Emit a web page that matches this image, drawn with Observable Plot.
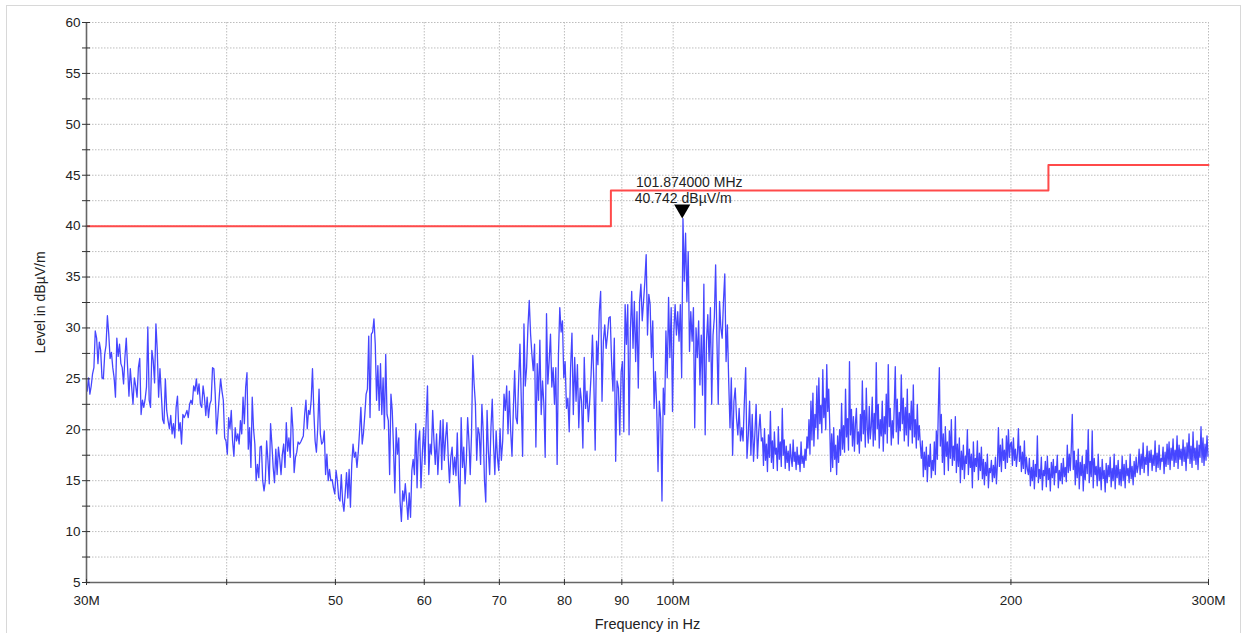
<!DOCTYPE html>
<html>
<head>
<meta charset="utf-8">
<script src="https://cdn.jsdelivr.net/npm/d3@7"></script>
<script src="https://cdn.jsdelivr.net/npm/@observablehq/plot@0.6"></script>
<style>
  body { margin: 0; background: #fff; }
  #wrap { position: relative; width: 1243px; height: 633px; overflow: hidden; }
  #frame { position: absolute; left: 6px; top: 5px; width: 1235px; height: 640px;
           border: 1px solid #d8d8d8; box-sizing: border-box; pointer-events: none; }
</style>
</head>
<body>
<div id="wrap"><div id="frame"></div></div>
<script>
// Radiated emission scan, 30 MHz – 300 MHz (levels in dBµV/m).
// Sweep levels are grouped by frequency band; each band's samples run across it in order.
const bandEdges = [30, 40, 50, 60, 70, 80, 90, 100, 120, 150, 200, 250, 300];

const lv30_40 = [23.8,25.1,23.5,24.3,25.5,26.1,29.7,29.0,26.5,28.6,27.8,25.1,25.0,27.4,28.3,31.2,29.4,27.0,27.6,26.1,
  25.1,23.2,29.0,27.2,28.4,26.5,26.1,24.5,27.1,29.0,26.1,23.3,26.0,24.2,22.5,25.1,24.3,23.2,26.1,27.0,
  21.5,22.9,22.2,23.0,24.2,30.1,22.9,22.2,27.8,26.8,24.6,30.4,27.8,23.2,26.0,23.5,21.0,20.6,25.0,21.9,
  20.9,20.1,21.4,19.6,20.6,19.2,22.2,23.3,19.9,20.7,18.6,21.5,21.2,21.5,21.9,21.2,22.5,22.9,22.5,24.3,
  23.8,25.0,23.5,24.5,22.5,22.2,24.3,23.2,21.4,23.2,21.2,22.5,22.9,26.1,26.0,23.5,19.6,21.4,23.3,25.0,
  23.8,22.9,19.2,18.9];
const lv40_50 = [17.6,21.2,20.1,21.9,18.9,17.4,20.2,18.9,19.6,18.6,20.9,19.6,23.2,20.6,24.2,25.6,18.1,20.2,16.3,23.2,
  20.1,18.6,15.0,16.6,15.3,18.3,18.4,15.0,14.0,15.0,18.9,17.0,14.7,20.6,18.6,16.3,14.8,18.1,15.6,18.3,
  17.1,15.6,17.6,18.6,16.3,20.7,17.9,19.2,17.3,22.2,20.2,15.8,17.3,17.8,18.8,18.6,18.8,19.1,19.4,21.5,
  22.9,20.1,21.9,21.5,22.9,26.0,21.9,18.9,17.8,20.2,24.0,19.6,18.6,18.8,19.9,15.6,17.6,15.0,16.1,15.0,
  15.1,14.3,13.7];
const lv50_60 = [16.0,15.0,13.3,13.0,15.6,13.0,12.0,13.8,15.8,13.3,16.1,12.4,16.6,18.6,17.3,17.8,16.3,17.8,19.9,22.2,
  18.6,19.7,21.5,23.5,24.0,29.2,21.2,29.4,29.6,30.9,28.4,22.9,26.3,21.9,26.5,21.5,25.1,20.1,27.4,21.5,
  20.9,15.6,23.5,21.9,18.1,13.8,20.2,17.6,19.2,13.0,11.0,14.0,13.0,14.7,13.0,11.2,13.8,11.4,16.0,17.1,
  15.6,20.6,14.3,18.9,19.9,14.3,17.6,20.2];
const lv60_70 = [16.6,21.0,24.3,15.6,18.6,17.6,21.9,18.9,16.6,19.6,15.6,18.3,20.9,16.1,21.0,17.0,19.2,20.7,17.3,14.8,
  17.3,18.3,15.6,17.3,15.5,19.7,15.0,12.5,21.2,16.3,18.3,14.7,17.0,21.2,18.9,15.6,19.6,27.3,24.5,22.5,
  17.0,20.2,19.6,16.6,22.5,19.9,15.0,12.9,21.9,17.9,15.6,20.2,23.0,18.6,15.6,19.9,17.3,16.0];
const lv70_80 = [20.1,17.0,18.9,23.5,21.9,24.3,19.6,23.8,19.9,17.4,21.9,25.8,21.2,20.6,24.8,28.4,22.9,17.4,30.4,24.3,
  26.1,30.1,32.7,29.4,27.4,25.8,28.4,18.3,26.5,22.9,28.8,21.5,24.8,22.5,17.3,31.4,24.5,26.8,29.4,24.2,
  26.1,22.5,26.1,16.6,27.4,32.0,29.6,30.7,25.1];
const lv80_90 = [26.7,22.1,23.1,19.8,26.1,29.5,21.5,27.1,22.8,26.4,20.2,24.1,22.8,18.2,27.1,22.1,23.8,20.8,22.8,25.4,
  29.3,24.8,18.0,28.7,26.4,31.6,33.6,22.8,28.7,30.3,28.0,29.3,31.0,31.1,26.7,23.8,29.0,16.9,24.8,24.1,
  19.5,25.7];
const lv90_100 = [26.7,19.8,32.3,28.4,32.3,19.5,29.7,33.6,28.0,32.6,26.7,31.6,24.1,32.6,34.3,30.7,32.6,34.6,37.2,29.3,
  33.3,32.3,27.1,30.7,22.1,25.7,22.1,15.9,22.8,21.1,13.0,24.1,21.5,29.7,25.1,33.0,27.1,32.0,21.8];
const lv100_120 = [29.7,32.3,29.3,31.6,28.7,32.3,25.1,40.742,34.6,39.3,32.6,37.5,27.7,31.6,28.7,32.0,20.2,30.0,27.1,30.7,
  24.4,29.3,23.4,34.3,19.5,28.7,31.3,26.7,32.0,22.5,29.3,31.0,36.2,28.7,22.5,32.6,30.0,29.0,32.6,35.3,
  26.7,30.3,24.8,20.2,25.1,17.5,22.8,24.1,21.1,19.5,22.1,18.9,20.2,18.9,22.8,26.1,17.2,19.5,22.8,17.5,
  21.5,16.9,19.5,22.5,17.2,19.8,21.5,18.9];
const lv120_150 = [19.2,16.5,20.1,17.0,18.6,15.9,19.5,17.3,21.8,16.8,18.9,16.2,19.8,17.6,18.2,16.0,20.3,17.1,18.8,16.4,
  22.1,17.5,19.0,
  16.2,18.4,16.8,17.9,16.0,18.6,17.2,16.4,19.0,16.9,17.8,16.1,18.3,16.6,17.5,15.9,18.8,16.7,17.4,16.3,18.1,17.0,19.3,
  18.2,21.0,17.6,22.8,19.0,23.6,18.4,21.5,20.2,24.3,19.1,25.1,20.6,22.4,19.7,25.9,21.2,23.1,20.0,26.4,21.8,24.0,20.5,
  15.9,
  19.6,16.3,20.2,17.1,18.5,15.6,19.4,16.8,20.0,17.5,
  22.6,18.1,20.4,17.8,24.0,19.3,21.1,18.0,26.7,19.5,22.0,18.4,21.3,17.9,20.6,22.1,18.6,19.8,17.7,21.5,
  18.9,24.8,19.6,21.9,18.3,24.1,20.2,18.7,22.3,19.1];
const lv150_200 = [20.3,23.2,18.4,21.6,19.0,26.6,20.1,22.5,18.2,21.0,
  19.4,22.8,17.9,21.3,19.6,23.5,18.7,26.4,20.3,22.1,18.5,20.9,19.2,
  22.4,26.2,19.8,23.0,18.6,21.7,19.9,
  25.4,20.6,23.1,18.9,22.2,19.5,24.0,18.4,21.6,20.0,22.8,18.7,24.4,19.3,21.0,18.2,22.5,19.0,20.4,18.6,
  17.2,18.9,15.4,17.8,16.1,18.3,14.9,17.5,16.4,18.6,15.3,17.0,16.0,18.8,15.6,19.9,17.1,
  22.0,26.1,18.4,
  21.5,16.8,19.6,15.6,20.3,17.4,18.8,16.0,19.9,17.2,21.0,16.5,18.4,
  17.0,21.3,15.8,18.6,16.4,19.2,14.8,17.9,16.1,18.5,15.2,17.4,16.7,20.0,15.6,18.1,16.3,17.6,14.3,18.8,
  15.9,17.2,16.4,18.9,15.1,17.7,16.0,
  18.3,15.2,17.1,14.6,16.8,15.5,17.6,14.3,16.2,15.8,17.0,14.9,16.5,15.3,17.3,14.7,16.6,
  20.2,16.4,18.5,15.9,19.1,17.0,18.0,16.2,19.4,16.8,20.0,17.3,18.6];
const lv200_250 = [18.8,16.5,19.2,17.0,18.1,16.4,17.6,20.1,16.9,18.4,15.9,17.8,16.2,18.9,15.7,17.3,16.1,
  15.6,17.2,14.5,16.3,15.0,17.0,14.2,16.6,15.4,19.4,14.8,16.1,15.2,17.3,14.1,16.0,15.5,16.9,14.4,17.4,
  15.1,16.2,14.0,16.8,15.3,17.1,14.6,16.4,15.8,17.5,14.3,16.0,15.0,16.7,14.7,17.2,15.4,16.3,14.9,18.5,
  15.8,17.6,16.0,18.2,21.5,
  16.1,17.9,14.6,17.0,15.3,18.1,14.2,16.8,15.5,17.4,14.0,16.6,15.1,18.0,15.7,20.0,14.8,16.9,15.4,19.9,
  14.3,17.2,15.6,16.4,14.5,17.6,15.0,16.3,14.1,17.1,15.2,16.0,13.9,16.7,14.8,16.5,15.4,17.3,
  14.4,16.2,15.0,17.6,14.2,16.5,15.3,17.0,14.6];
const lv250_300 = [16.1,14.5,17.4,15.0,16.6,14.3,17.0,15.5,16.2,14.8,17.6,15.2,16.4,14.6,16.9,15.4,17.3,15.8,
  16.4,18.1,15.6,17.6,16.2,18.7,15.8,17.3,16.6,18.4,15.5,17.9,16.8,18.0,16.0,17.5,16.5,18.9,15.9,17.7,
  16.3,18.5,16.1,17.2,16.9,18.3,15.7,17.8,16.4,18.6,
  16.6,18.8,16.1,18.2,17.0,19.1,16.4,18.0,16.8,19.4,16.2,18.5,17.1,18.1,16.5,19.0,16.9,18.3,16.0,18.7,
  17.2,19.6,16.7,18.4,16.3,19.8,17.0,18.2,16.6,18.9,16.1,18.5,17.3,20.3,16.8,19.2,16.5,18.6,17.0,19.4,17.4];

const bandLevels = [lv30_40, lv40_50, lv50_60, lv60_70, lv70_80, lv80_90, lv90_100,
                    lv100_120, lv120_150, lv150_200, lv200_250, lv250_300];

// Limit line (MHz, dBµV/m), stepped
const limitFreq = [30, 88, 216, 300];
const limitLevel = [40, 43.5, 46, 46];

// Peak marker
const markerFreq = 101.874;
const markerLevel = 40.742;
const markerLine1 = "101.874000 MHz";
const markerLine2 = "40.742 dBµV/m";

// Axis ticks
const xTicks = [30, 40, 50, 60, 70, 80, 90, 100, 200, 300];
const xTickLabels = ["30M", "", "50", "60", "70", "80", "90", "100M", "200", "300M"];
const yMajor = [5, 10, 15, 20, 25, 30, 35, 40, 45, 50, 55, 60];
const yMinor = [7.5, 12.5, 17.5, 22.5, 27.5, 32.5, 37.5, 42.5, 47.5, 52.5, 57.5];

// Place each band's samples in sweep order across that band (log-spaced)
const trace = [];
bandLevels.forEach((levels, b) => {
  const f0 = bandEdges[b], f1 = bandEdges[b + 1], n = levels.length;
  levels.forEach((v, i) => trace.push({f: f0 * Math.pow(f1 / f0, (i + 0.5) / n), v}));
});
const limit = limitFreq.map((f, i) => ({f, v: limitLevel[i]}));
const marker = [{f: markerFreq, v: markerLevel}];
const xLabel = new Map(xTicks.map((t, i) => [t, xTickLabels[i]]));
const yGrid = [...yMinor, ...yMajor.filter(d => d > 5)];
const yAll = [...yMajor, ...yMinor];
const gridStyle = {stroke: "#bdbdbd", strokeDasharray: "1.5,1.5", strokeWidth: 1};

const chart = Plot.plot({
  width: 1243,
  height: 633,
  marginLeft: 86,
  marginRight: 35,
  marginTop: 22,
  marginBottom: 51,
  style: {fontFamily: "'Liberation Sans', Arial, sans-serif", fontSize: "13.5px", color: "#222", background: "transparent"},
  x: {type: "log", domain: [30, 300], label: null},
  y: {domain: [5, 60], label: null},
  marks: [
    Plot.ruleY(yGrid, gridStyle),
    Plot.ruleX(xTicks.slice(1), gridStyle),
    Plot.line(limit, {x: "f", y: "v", curve: "step-after", stroke: "#ff4a4a", strokeWidth: 2}),
    Plot.line(trace, {x: "f", y: "v", stroke: "#4646ff", strokeWidth: 1.3}),
    Plot.ruleX([30], {stroke: "#666", strokeWidth: 1.6}),
    Plot.ruleY([5], {stroke: "#666", strokeWidth: 1.6}),
    Plot.axisY(yAll, {tickSize: 8, dx: 4, tickFormat: () => "", stroke: "#333", label: null}),
    Plot.axisY(yMajor, {tickSize: 0, tickPadding: 6, tickFormat: d => String(d), fill: "#222", label: null}),
    Plot.axisX(xTicks, {tickSize: 6, dy: -3, tickFormat: () => "", stroke: "#333", label: null}),
    Plot.axisX(xTicks, {tickSize: 0, tickPadding: 13, tickFormat: d => xLabel.get(d), fill: "#222", label: null}),
    Plot.text(["Level in dBµV/m"], {frameAnchor: "left", textAnchor: "middle", dx: -46, rotate: -90, fontSize: 14, fill: "#222"}),
    Plot.text(["Frequency in Hz"], {frameAnchor: "bottom", textAnchor: "middle", dy: 46, fontSize: 14.5, fill: "#222"}),
    Plot.dot(marker, {x: "f", y: "v", symbol: "triangle", rotate: 180, r: 6, dy: -9.3, fill: "#000", stroke: "none"}),
    Plot.text(marker, {x: "f", y: "v", text: () => markerLine1, dy: -36, dx: 7, fontSize: 14, fill: "#222"}),
    Plot.text(marker, {x: "f", y: "v", text: () => markerLine2, dy: -20, dx: 1, fontSize: 14, fill: "#222"})
  ]
});
document.getElementById("wrap").prepend(chart);
</script>
</body>
</html>
